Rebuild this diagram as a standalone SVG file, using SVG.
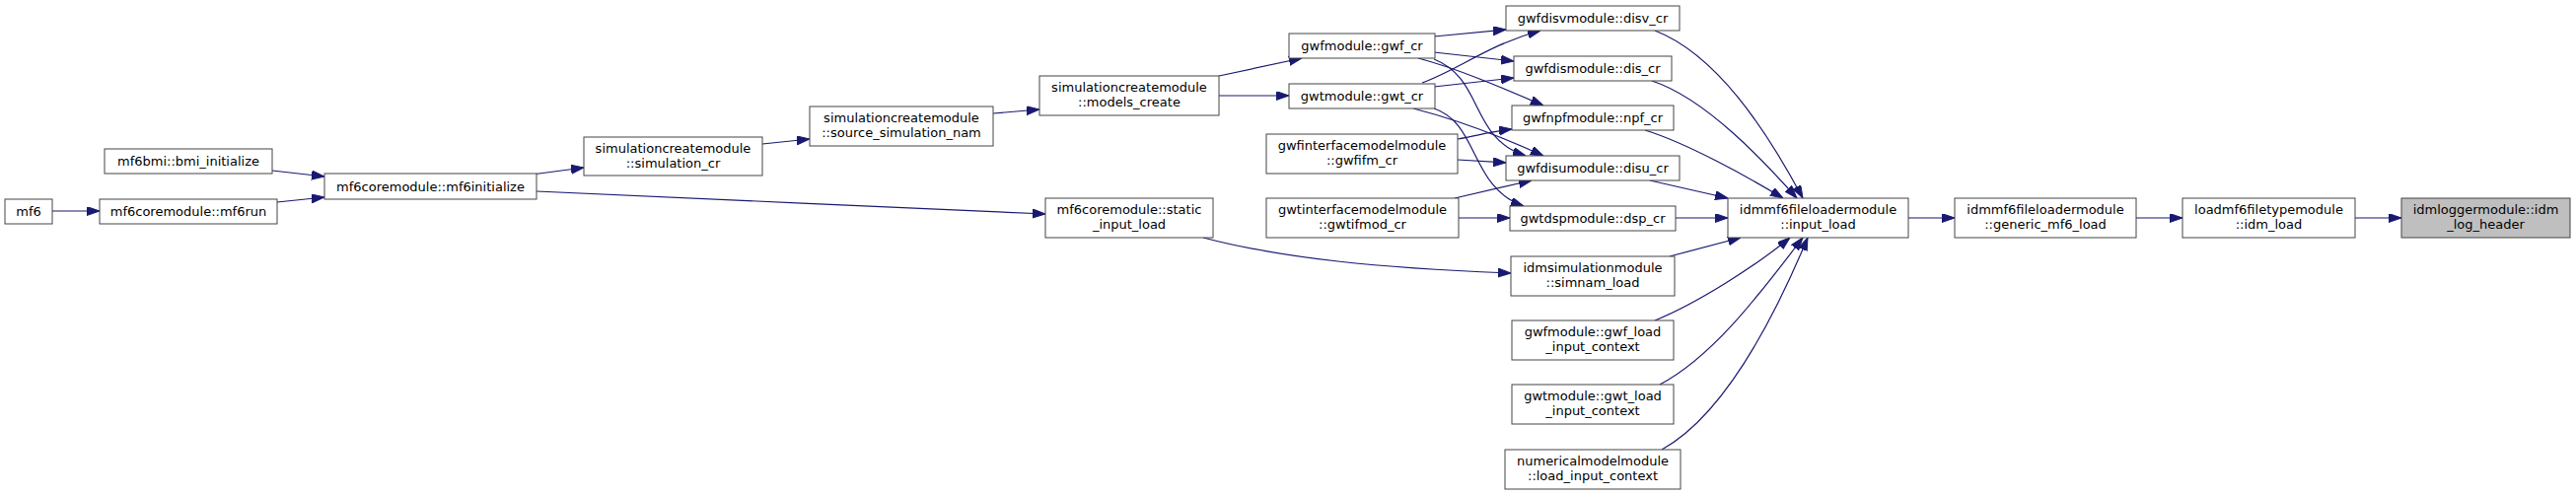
<svg xmlns="http://www.w3.org/2000/svg" width="2612" height="502" viewBox="0 0 2612 502">
<style>
.n rect{fill:#fff;stroke:#444;stroke-width:1}
.root rect{fill:#bfbfbf}
text{font-family:"DejaVu Sans",Verdana,sans-serif;font-size:13px;fill:#000;text-anchor:middle}
.e path{fill:none;stroke:#191970;stroke-width:1.2;marker-end:url(#a)}
</style>
<defs>
<marker id="a" markerUnits="userSpaceOnUse" markerWidth="13" markerHeight="10" refX="13" refY="4.5" orient="auto"><path d="M0,0 L13,4.5 L0,9 z" fill="#191970" stroke="#191970" stroke-width="1"/></marker>
</defs>
<rect width="2612" height="502" fill="#fff"/>
<g class="e" id="edges">
<path d="M53,214 L101,214"/>
<path d="M276,173 L329,179"/>
<path d="M281,205 L329,200"/>
<path d="M539,177 L592,170"/>
<path d="M544,194 C700,201 900,210 1060,217"/>
<path d="M773,146 L821,141"/>
<path d="M1007,115 L1054,111"/>
<path d="M1236,77 L1320,59"/>
<path d="M1236,97 L1307,97"/>
<path d="M1220,241 C1300,262 1400,272 1532,277"/>
<path d="M1454,37 L1527,30"/>
<path d="M1454,53 L1535,62"/>
<path d="M1438,59 C1480,70 1530,92 1565,107"/>
<path d="M1454,60 C1505,80 1490,140 1547,158"/>
<path d="M1442,84 C1480,70 1510,45 1562,31"/>
<path d="M1454,88 L1535,79"/>
<path d="M1433,110 C1480,122 1530,142 1565,158"/>
<path d="M1454,110 C1500,125 1490,190 1545,209"/>
<path d="M1478,141 C1500,137 1515,133 1533,131"/>
<path d="M1478,162 L1527,165"/>
<path d="M1475,201 L1553,183"/>
<path d="M1479,221 L1531,221"/>
<path d="M1678,31 C1740,55 1790,130 1828,201"/>
<path d="M1675,82 C1730,100 1790,165 1822,201"/>
<path d="M1668,132 C1710,145 1770,178 1808,201"/>
<path d="M1673,183 L1752,201"/>
<path d="M1699,221 L1752,221"/>
<path d="M1693,260 L1765,241"/>
<path d="M1678,325 C1720,308 1780,270 1815,241"/>
<path d="M1683,390 C1740,360 1790,290 1828,241"/>
<path d="M1685,456 C1750,420 1800,320 1833,241"/>
<path d="M1935,221 L1982,221"/>
<path d="M2166,221 L2213,221"/>
<path d="M2388,221 L2435,221"/>
</g>
<g class="n" id="mf6"><rect x="5" y="202" width="48" height="25"/><text x="29" y="219">mf6</text></g>
<g class="n" id="bmi_initialize"><rect x="106" y="151" width="170" height="25"/><text x="191" y="168">mf6bmi::bmi_initialize</text></g>
<g class="n" id="mf6run"><rect x="101" y="202" width="180" height="25"/><text x="191" y="219">mf6coremodule::mf6run</text></g>
<g class="n" id="mf6initialize"><rect x="329" y="176" width="215" height="26"/><text x="436.5" y="193.5">mf6coremodule::mf6initialize</text></g>
<g class="n" id="simulation_cr"><rect x="592" y="139" width="181" height="39"/><text x="682.5" y="155">simulationcreatemodule</text><text x="682.5" y="170">::simulation_cr</text></g>
<g class="n" id="source_simulation_nam"><rect x="821" y="108" width="186" height="40"/><text x="914" y="124">simulationcreatemodule</text><text x="914" y="139">::source_simulation_nam</text></g>
<g class="n" id="models_create"><rect x="1054" y="77" width="182" height="40"/><text x="1145" y="93">simulationcreatemodule</text><text x="1145" y="108">::models_create</text></g>
<g class="n" id="static_input_load"><rect x="1060" y="201" width="170" height="40"/><text x="1145" y="217">mf6coremodule::static</text><text x="1145" y="232">_input_load</text></g>
<g class="n" id="gwf_cr"><rect x="1307" y="34" width="148" height="25"/><text x="1381" y="51">gwfmodule::gwf_cr</text></g>
<g class="n" id="gwt_cr"><rect x="1307" y="85" width="148" height="25"/><text x="1381" y="102">gwtmodule::gwt_cr</text></g>
<g class="n" id="gwfifm_cr"><rect x="1284" y="136" width="194" height="40"/><text x="1381" y="152">gwfinterfacemodelmodule</text><text x="1381" y="167">::gwfifm_cr</text></g>
<g class="n" id="gwtifmod_cr"><rect x="1284" y="201" width="195" height="40"/><text x="1381.5" y="217">gwtinterfacemodelmodule</text><text x="1381.5" y="232">::gwtifmod_cr</text></g>
<g class="n" id="disv_cr"><rect x="1527" y="6" width="176" height="25"/><text x="1615" y="23">gwfdisvmodule::disv_cr</text></g>
<g class="n" id="dis_cr"><rect x="1535" y="57" width="160" height="25"/><text x="1615" y="74">gwfdismodule::dis_cr</text></g>
<g class="n" id="npf_cr"><rect x="1533" y="107" width="164" height="25"/><text x="1615" y="124">gwfnpfmodule::npf_cr</text></g>
<g class="n" id="disu_cr"><rect x="1527" y="158" width="176" height="25"/><text x="1615" y="175">gwfdisumodule::disu_cr</text></g>
<g class="n" id="dsp_cr"><rect x="1531" y="209" width="168" height="25"/><text x="1615" y="226">gwtdspmodule::dsp_cr</text></g>
<g class="n" id="simnam_load"><rect x="1532" y="260" width="166" height="40"/><text x="1615" y="276">idmsimulationmodule</text><text x="1615" y="291">::simnam_load</text></g>
<g class="n" id="gwf_load_input_context"><rect x="1533" y="325" width="164" height="40"/><text x="1615" y="341">gwfmodule::gwf_load</text><text x="1615" y="356">_input_context</text></g>
<g class="n" id="gwt_load_input_context"><rect x="1533" y="390" width="164" height="40"/><text x="1615" y="406">gwtmodule::gwt_load</text><text x="1615" y="421">_input_context</text></g>
<g class="n" id="load_input_context"><rect x="1526" y="456" width="178" height="40"/><text x="1615" y="472">numericalmodelmodule</text><text x="1615" y="487">::load_input_context</text></g>
<g class="n" id="input_load"><rect x="1752" y="201" width="183" height="40"/><text x="1843.5" y="217">idmmf6fileloadermodule</text><text x="1843.5" y="232">::input_load</text></g>
<g class="n" id="generic_mf6_load"><rect x="1982" y="201" width="184" height="40"/><text x="2074" y="217">idmmf6fileloadermodule</text><text x="2074" y="232">::generic_mf6_load</text></g>
<g class="n" id="idm_load"><rect x="2213" y="201" width="175" height="40"/><text x="2300.5" y="217">loadmf6filetypemodule</text><text x="2300.5" y="232">::idm_load</text></g>
<g class="n root" id="idm_log_header"><rect x="2435" y="201" width="171" height="40"/><text x="2520.5" y="217">idmloggermodule::idm</text><text x="2520.5" y="232">_log_header</text></g>
</svg>
